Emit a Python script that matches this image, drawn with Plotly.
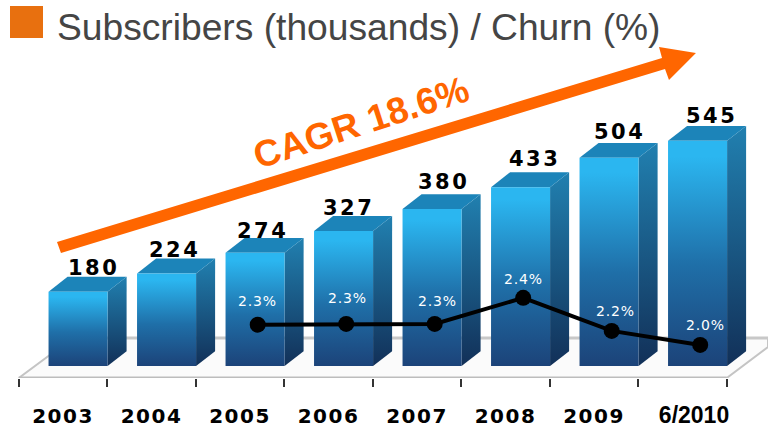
import plotly.graph_objects as go

categories = ["2003", "2004", "2005", "2006", "2007", "2008", "2009", "6/2010"]
subscribers = [180, 224, 274, 327, 380, 433, 504, 545]
churn_categories = ["2005", "2006", "2007", "2008", "2009", "6/2010"]
churn_labels = ["2.3%", "2.3%", "2.3%", "2.4%", "2.2%", "2.0%"]
# Heights of the churn line as drawn in the picture, read against the bar scale
churn_drawn = [100, 102, 102, 165, 85, 51]

ORANGE = "#FF6600"
BAR_W, DEPTH_X, DEPTH_Y, BAR_OFF = 0.667, 0.215, 36, 0.17
VALUE_NUDGE = [0, -7, -8, -10, -4, -1, -5, -1]
VALUE_LIFT = [24, 23, 22, 23, 27, 28, 26, 25]
CHURN_NUDGE = [(0, 24), (1, 26), (3, 23), (0, 19), (4, 20), (5, 20)]
PLOT_H = 378  # paper coordinates span the plot area, which ends above the tick labels

fig = go.Figure()

# floor
floor_x = [-0.5, 7.5, 7.966, 7.966, 0.11]
floor_y = [-29, -29, 46, 68, 68]
fig.add_trace(go.Scatter(x=floor_x + floor_x[:1], y=floor_y + floor_y[:1], mode="lines", fill="toself",
                         fillcolor="#FBFBFB", line=dict(color="#C4C4C4", width=2), hoverinfo="skip"))
fig.add_trace(go.Scatter(x=floor_x[3:], y=floor_y[3:], mode="lines",
                         line=dict(color="#C8C8C8", width=3), hoverinfo="skip"))
fig.add_trace(go.Scatter(x=floor_x[:2], y=floor_y[:2], mode="lines",
                         line=dict(color="#BDBDBD", width=3), hoverinfo="skip"))


def grad(top, bottom):
    return dict(type="vertical", colorscale=[[0, bottom], [1, top]])


for i, v in enumerate(subscribers):
    l = i + BAR_OFF - BAR_W / 2
    r = i + BAR_OFF + BAR_W / 2
    # side
    fig.add_trace(go.Scatter(x=[r, r + DEPTH_X, r + DEPTH_X, r, r],
                             y=[0, DEPTH_Y, v + DEPTH_Y, v, 0], mode="lines", fill="toself",
                             fillgradient=grad("#2180B0", "#123058"), line=dict(width=0), hoverinfo="skip"))
    # top
    fig.add_trace(go.Scatter(x=[l, r, r + DEPTH_X, l + DEPTH_X, l],
                             y=[v, v, v + DEPTH_Y, v + DEPTH_Y, v], mode="lines", fill="toself",
                             fillcolor="#1C84B9", line=dict(width=0), hoverinfo="skip"))
    # front
    fig.add_trace(go.Scatter(x=[l, r, r, l, l], y=[0, 0, v, v, 0], mode="lines", fill="toself",
                             fillgradient=dict(type="vertical", colorscale=[
                                 [0, "#1C4379"], [0.45, "#1F6FA8"], [0.93, "#2BB6F0"], [1, "#2BB6F0"]]),
                             line=dict(width=0), hoverinfo="skip"))

# churn line
churn_x = [categories.index(c) + BAR_OFF + 0.03 for c in churn_categories]
fig.add_trace(go.Scatter(x=churn_x, y=churn_drawn, mode="lines+markers",
                         line=dict(color="black", width=4),
                         marker=dict(color="black", size=16), hoverinfo="skip"))


def spaced(text, px):
    return f'<span style="letter-spacing:{px}px">{text}</span>'


annotations = []
for i, v in enumerate(subscribers):
    annotations.append(dict(x=i + BAR_OFF, y=v, text=spaced(v, 2.5), showarrow=False,
                            xshift=15 + VALUE_NUDGE[i], yshift=VALUE_LIFT[i], yanchor="middle",
                            font=dict(family="DejaVu Sans", size=21, color="black", weight="bold")))
for x, y, t, (dx, dy) in zip(churn_x, churn_drawn, churn_labels, CHURN_NUDGE):
    annotations.append(dict(x=x, y=y, text=spaced(t, 0.8), showarrow=False, xshift=dx, yshift=dy, yanchor="middle",
                            font=dict(family="DejaVu Sans", size=14, color="white")))

annotations.append(dict(xref="paper", yref="paper", x=55 / 768, y=1 - 27 / PLOT_H, xanchor="left", yanchor="middle",
                        text="Subscribers (thousands) / Churn (%)", showarrow=False,
                        font=dict(family="Liberation Sans", size=37.2, color="#454545")))
annotations.append(dict(xref="paper", yref="paper", x=361 / 768, y=1 - 122 / PLOT_H, xanchor="center", yanchor="middle",
                        text="<b>CAGR 18.6%</b>", showarrow=False, textangle=-18,
                        font=dict(family="Liberation Sans", size=37, color=ORANGE)))


def paper_path(points):
    return "M" + " L".join(f"{px / 768:.4f},{1 - py / PLOT_H:.4f}" for px, py in points) + " Z"


arrow_outline = [(57, 242), (61, 253), (665, 69), (669, 80), (696, 53), (659, 47), (662, 58)]
shapes = [
    dict(type="path", xref="paper", yref="paper", path=paper_path(arrow_outline),
         fillcolor=ORANGE, line=dict(width=0), layer="above"),
    dict(type="rect", xref="paper", yref="paper", x0=10 / 768, x1=43 / 768, y0=1 - 38 / PLOT_H, y1=1 - 6 / PLOT_H,
         fillcolor="#E8700F", line=dict(width=0), layer="above"),
]

fig.update_traces(cliponaxis=False)
tick_pos = [i if c != "6/2010" else i + 0.13 for i, c in enumerate(categories)]
tick_text = [spaced(c, 1.5) if c != "6/2010" else
             f'<span style="font-family:Liberation Sans;font-size:23px">{c}</span>' for c in categories]
fig.update_layout(
    width=768, height=428, margin=dict(l=0, r=0, t=0, b=50), autosize=False,
    paper_bgcolor="white", plot_bgcolor="white", showlegend=False,
    annotations=annotations, shapes=shapes,
    xaxis=dict(range=[-0.712, 7.966], showgrid=False, zeroline=False, showline=False,
               tickmode="array", tickvals=tick_pos, ticktext=tick_text, ticks="", ticklabelstandoff=24,
               tickfont=dict(family="DejaVu Sans", size=20, color="black", weight="bold"),
               minor=dict(tickmode="array", tickvals=[i - 0.5 for i in range(len(categories) + 1)],
                          ticks="outside", ticklen=8, tickwidth=2, tickcolor="#333333", showgrid=False)),
    yaxis=dict(range=[-29, 886], visible=False),
)
fig.write_html("out.html", config={"displayModeBar": False},
               post_script="document.body.style.margin='0';document.body.style.overflow='hidden';")
